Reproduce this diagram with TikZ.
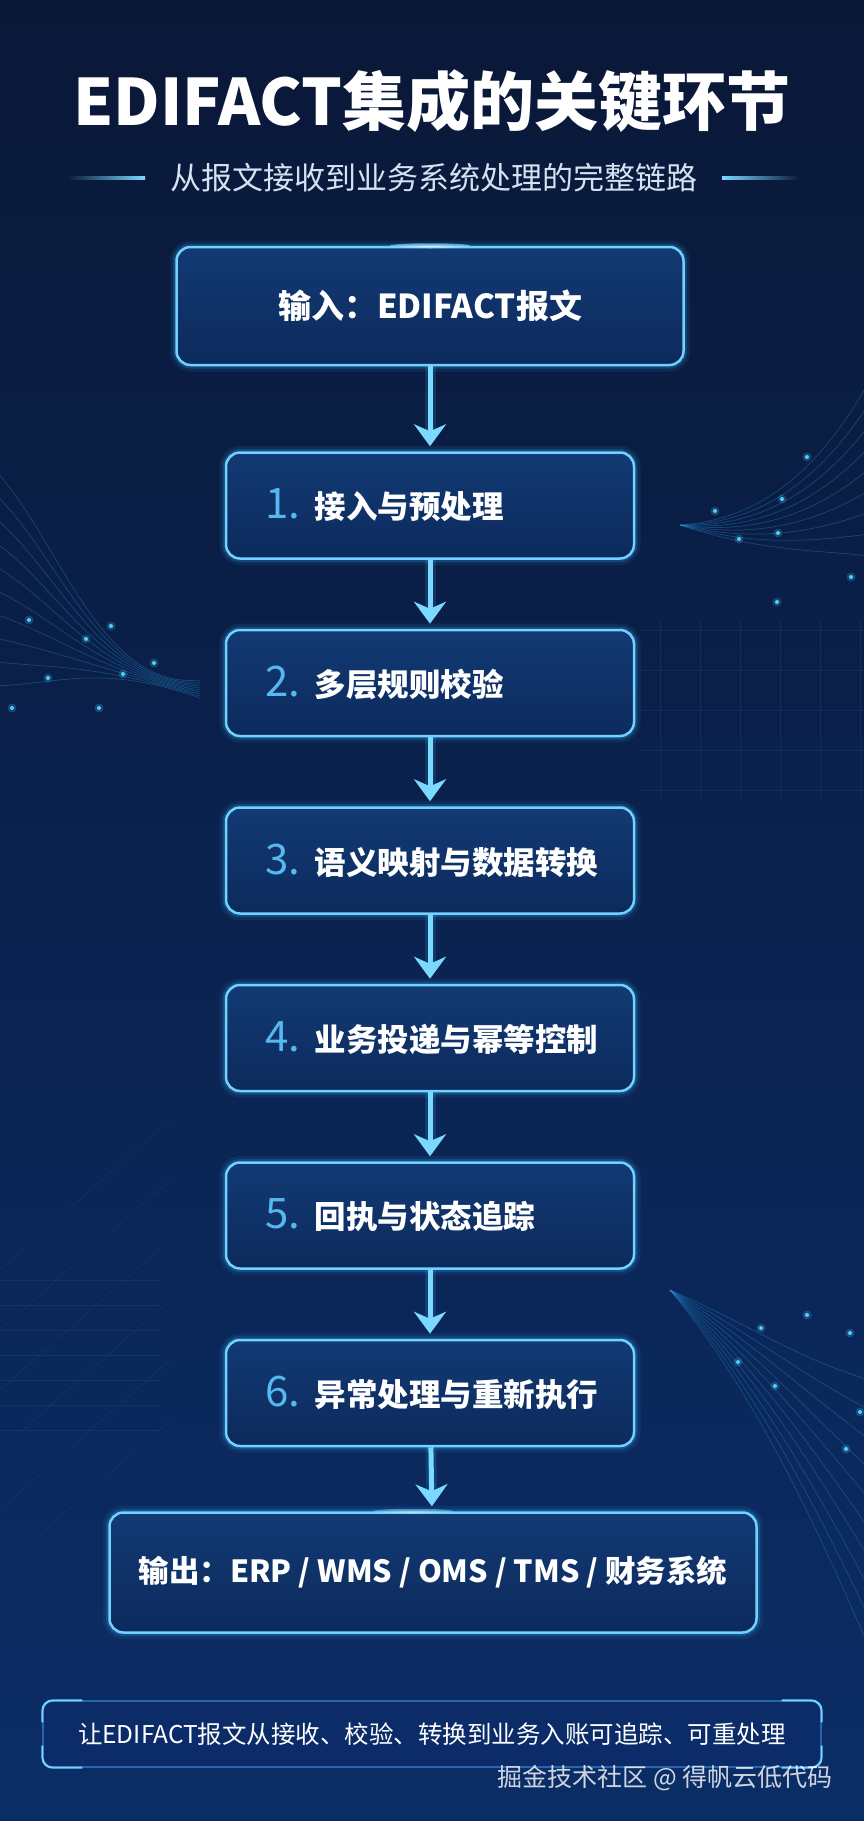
\documentclass[tikz,border=0pt]{standalone}
\usepackage{fontspec}
\setmainfont{Noto Sans CJK SC}
\usetikzlibrary{positioning,arrows.meta,calc}

\definecolor{bgtop}{HTML}{0A1838}
\definecolor{bgmid}{HTML}{0B2B62}
\definecolor{bgbot}{HTML}{0B2D66}
\definecolor{edge}{HTML}{72D2FF}
\definecolor{glow}{HTML}{2FA8F0}
\definecolor{fillhi}{HTML}{123A74}
\definecolor{filllo}{HTML}{0C2A5C}
\definecolor{arrowc}{HTML}{7BD8FF}
\definecolor{numblue}{HTML}{55B8EE}
\definecolor{subtext}{HTML}{D6E2F2}
\definecolor{bannerline}{HTML}{3A86D6}
\definecolor{bannerfill}{HTML}{0B2C6A}
\definecolor{dotc}{HTML}{4FD0FF}

\newcommand{\numtag}[1]{\hspace*{20pt}{\color{numblue}\mdseries\fontsize{42}{44}\selectfont #1}\hspace{15pt}}

\tikzset{
  panel/.style={rounded corners=14pt, draw=edge, line width=2.5pt,
    top color=fillhi, bottom color=filllo, text=white,
    preaction={draw=glow, line width=13pt, draw opacity=0.10},
    preaction={draw=glow, line width=7pt, draw opacity=0.22}},
  endbox/.style={panel, minimum height=118pt, align=center},
  stepbox/.style={panel, minimum height=106pt, text width=370pt,
    inner xsep=19pt, align=left, font=\bfseries\fontsize{31.5}{38}\selectfont},
  flow/.style={-{Stealth[length=22pt,width=32pt,inset=7pt]}, line width=5pt,
    draw=arrowc, shorten >=5pt,
    preaction={draw=glow, line width=11pt, draw opacity=0.18, -, shorten >=14pt}},
  wave/.style={draw=glow, line width=0.7pt, draw opacity=0.30},
  gridline/.style={draw=glow, line width=0.6pt, draw opacity=0.10},
}

\begin{document}
\begin{tikzpicture}[x=1pt, y=-1pt, node distance=69pt]
  \useasboundingbox (0,0) rectangle (864,1821);
  \shade[top color=bgtop, middle color=bgmid, bottom color=bgbot] (0,0) rectangle (864,1821);

  % background decoration
  \foreach \i in {0,...,9}
    \draw[wave] (-5,470+\i*24) .. controls (60,540+\i*16) and (100,690-\i*3) .. (200,680+\i*2);
  \foreach \i in {0,...,8}
    \draw[wave] (870,380+\i*22) .. controls (820,470+\i*10) and (760,520+\i*4) .. (680,525);
  \foreach \i in {0,...,9}
    \draw[wave] (670,1290) .. controls (740,1320+\i*6) and (800,1360+\i*14) .. (870,1380+\i*30);
  \foreach \i in {0,...,5}
    \draw[gridline] (0,1270+\i*60) -- (170,1120+\i*60);
  \foreach \y in {1280,1305,...,1440}
    \draw[gridline] (0,\y) -- (160,\y);
  \foreach \x in {660,700,...,860}
    \draw[gridline] (\x,620) -- (\x,800);
  \foreach \y in {630,670,...,790}
    \draw[gridline] (640,\y) -- (864,\y);
  \foreach \x/\y in {12/708, 29/620, 111/626, 86/639, 48/678, 123/674, 154/663, 99/708,
                     807/457, 782/499, 778/533, 739/539, 715/511, 851/577, 777/602,
                     807/1315, 761/1328, 738/1362, 775/1386, 860/1412, 846/1449, 850/1333} {
    \fill[dotc, opacity=0.22] (\x,\y) circle (4.5pt);
    \fill[dotc] (\x,\y) circle (2pt);
  }

  % title
  \node (title) at (432,101) {\color{white}\bfseries\fontsize{64}{72}\selectfont EDIFACT集成的关键环节};
  \node (subtitle) at (434,178) {\color{subtext}\fontsize{31}{35}\selectfont 从报文接收到业务系统处理的完整链路};
  \shade[left color=bgtop, right color=arrowc] (67,176) rectangle (145,179);
  \shade[left color=arrowc, right color=bgtop] (722,176) rectangle (800,179);

  % flow
  \node (input) [endbox, minimum width=507pt, font=\bfseries\fontsize{33}{38}\selectfont]
    at (430,306) {输入：EDIFACT报文};
  \node (s1) [stepbox, below=85pt of input] {\numtag{1.}接入与预处理};
  \node (s2) [stepbox, below=of s1] {\numtag{2.}多层规则校验};
  \node (s3) [stepbox, below=of s2] {\numtag{3.}语义映射与数据转换};
  \node (s4) [stepbox, below=of s3] {\numtag{4.}业务投递与幂等控制};
  \node (s5) [stepbox, below=of s4] {\numtag{5.}回执与状态追踪};
  \node (s6) [stepbox, below=of s5] {\numtag{6.}异常处理与重新执行};
  \node (output) [endbox, minimum height=120pt, minimum width=647pt,
    font=\bfseries\fontsize{30.5}{36}\selectfont,
    below=64pt of s6, xshift=3pt] {输出：ERP / WMS / OMS / TMS / 财务系统};

  \shade[inner color=white, outer color=edge, opacity=0.7] (input.north) ellipse (40pt and 2.5pt);
  \shade[inner color=white, outer color=edge, opacity=0.5] ([xshift=-20pt]output.north) ellipse (40pt and 2.5pt);

  \draw[flow] (input) -- (s1);
  \draw[flow] (s1) -- (s2);
  \draw[flow] (s2) -- (s3);
  \draw[flow] (s3) -- (s4);
  \draw[flow] (s4) -- (s5);
  \draw[flow] (s5) -- (s6);
  \draw[flow] (s6) -- (output);

  % bottom banner
  \node (banner) [rounded corners=10pt, draw=bannerline, line width=1.2pt, fill=bannerfill,
    fill opacity=0.7, text opacity=1, text=white, minimum width=778pt, minimum height=66pt,
    font=\fontsize{24.5}{28}\selectfont] at (432,1734)
    {让EDIFACT报文从接收、校验、转换到业务入账可追踪、可重处理};
  \draw[edge, line width=2pt, rounded corners=10pt]
    ($(banner.north west)+(0,22)$) |- ($(banner.north west)+(40,0)$);
  \draw[edge, line width=2pt, rounded corners=10pt]
    ($(banner.north east)+(0,22)$) |- ($(banner.north east)+(-40,0)$);
  \draw[edge, line width=2pt, rounded corners=10pt]
    ($(banner.south west)+(0,-22)$) |- ($(banner.south west)+(40,0)$);
  \draw[edge, line width=2pt, rounded corners=10pt]
    ($(banner.south east)+(0,-22)$) |- ($(banner.south east)+(-40,0)$);

  \node (mark) [anchor=east, text=white, text opacity=0.8, font=\fontsize{25}{29}\selectfont]
    at (836,1778) {掘金技术社区 @ 得帆云低代码};
\end{tikzpicture}
\end{document}
